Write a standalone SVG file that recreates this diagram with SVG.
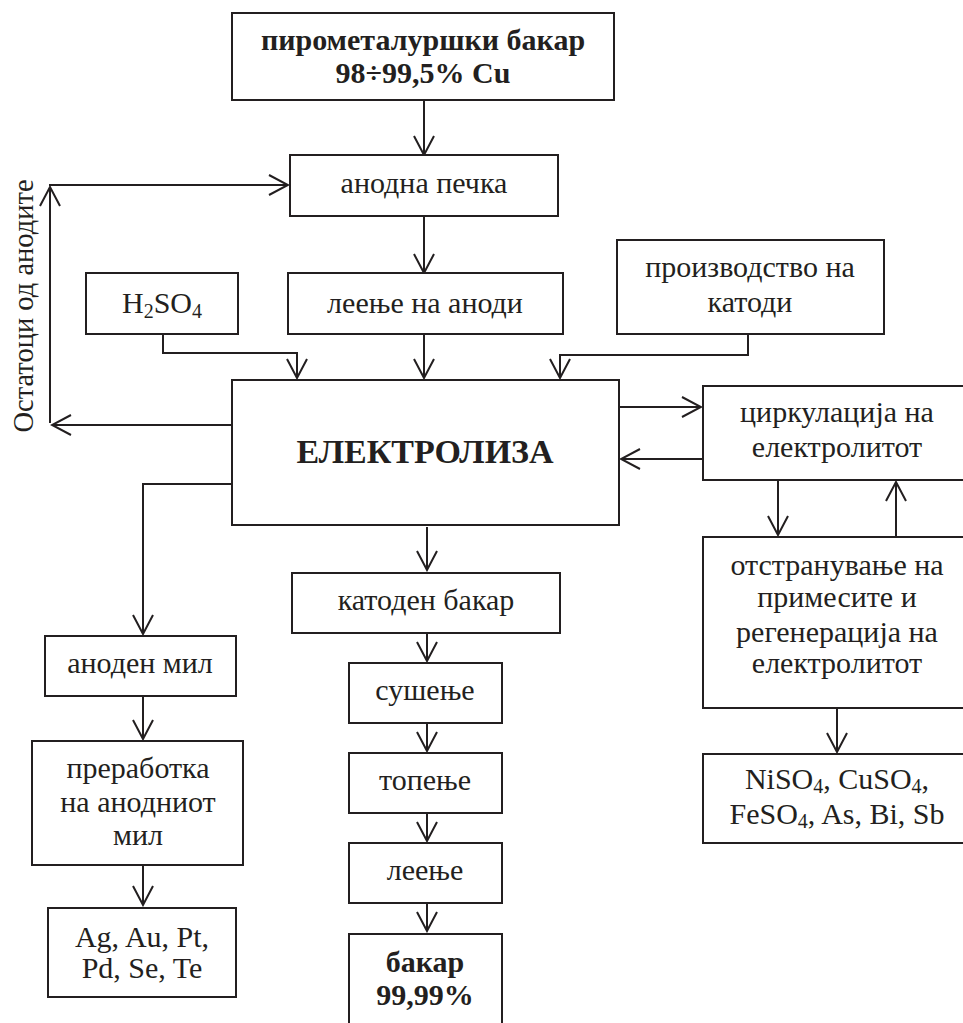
<svg xmlns="http://www.w3.org/2000/svg" width="963" height="1023" viewBox="0 0 963 1023">
<defs>
<style>
.box{fill:#fff;stroke:#231f20;stroke-width:2}
.t{font-family:"Liberation Serif","Times New Roman",serif;font-size:30px;fill:#231f20;text-anchor:middle}
.b{font-weight:bold}
.c{fill:none;stroke:#231f20;stroke-width:2}
.s{font-size:20px}
</style>
<marker id="ah" viewBox="-22 -12 24 24" refX="0" refY="0" markerWidth="24" markerHeight="24" markerUnits="userSpaceOnUse" orient="auto">
<path d="M-19,-10 L0,0 L-19,10" fill="none" stroke="#231f20" stroke-width="2"/>
</marker>
</defs>
<rect width="963" height="1023" fill="#fff"/>
<g id="connectors">
<path class="c" d="M424,100 V155" marker-end="url(#ah)"/>
<path class="c" d="M424,216 V273" marker-end="url(#ah)"/>
<path class="c" d="M424,334 V378" marker-end="url(#ah)"/>
<path class="c" d="M163,334 V353 H297 V378" marker-end="url(#ah)"/>
<path class="c" d="M748,334 V355 H560 V378" marker-end="url(#ah)"/>
<path class="c" d="M232,425 H52" marker-end="url(#ah)"/>
<path class="c" d="M50,423 V187" marker-end="url(#ah)"/>
<path class="c" d="M49,185 H288" marker-end="url(#ah)"/>
<path class="c" d="M232,484 H143 V634" marker-end="url(#ah)"/>
<path class="c" d="M427,527 V570" marker-end="url(#ah)"/>
<path class="c" d="M427,633 V661" marker-end="url(#ah)"/>
<path class="c" d="M427,723 V751" marker-end="url(#ah)"/>
<path class="c" d="M427,813 V841" marker-end="url(#ah)"/>
<path class="c" d="M427,903 V931" marker-end="url(#ah)"/>
<path class="c" d="M143,696 V739" marker-end="url(#ah)"/>
<path class="c" d="M143,865 V905" marker-end="url(#ah)"/>
<path class="c" d="M619,407 H701" marker-end="url(#ah)"/>
<path class="c" d="M703,459 H621" marker-end="url(#ah)"/>
<path class="c" d="M778,480 V535" marker-end="url(#ah)"/>
<path class="c" d="M896,537 V482" marker-end="url(#ah)"/>
<path class="c" d="M837,708 V752" marker-end="url(#ah)"/>
</g>
<text class="t" style="font-size:28.5px" transform="translate(33,306) rotate(-90)">Остатоци од анодите</text>
<g id="n-top"><rect class="box" x="232" y="13" width="382" height="87"/>
<text class="t b" x="423" y="50">пирометалуршки бакар</text><text class="t b" x="423" y="83">98÷99,5% Cu</text></g>
<g id="n-anodna"><rect class="box" x="290" y="155" width="268" height="61"/><text class="t" x="424" y="193">анодна печка</text></g>
<g id="n-h2so4"><rect class="box" x="86" y="273" width="152" height="61"/><text class="t" x="162" y="313">H<tspan class="s" baseline-shift="-5">2</tspan>SO<tspan class="s" baseline-shift="-5">4</tspan></text></g>
<g id="n-leenje-anodi"><rect class="box" x="288" y="273" width="275" height="61"/><text class="t" x="425" y="313">леење на аноди</text></g>
<g id="n-proizvodstvo"><rect class="box" x="617" y="240" width="267" height="94"/><text class="t" x="750" y="277">производство на</text><text class="t" x="750" y="312">катоди</text></g>
<g id="n-elektroliza"><rect class="box" x="232" y="380" width="387" height="145"/><text class="t b" x="425" y="463" style="font-size:34px">ЕЛЕКТРОЛИЗА</text></g>
<g id="n-cirkulacija"><rect class="box" x="703" y="386" width="270" height="94"/><text class="t" x="837" y="422">циркулација на</text><text class="t" x="837" y="457">електролитот</text></g>
<g id="n-otstranuvanje"><rect class="box" x="703" y="537" width="270" height="171"/><text class="t" x="837" y="575">отстранување на</text><text class="t" x="837" y="607">примесите и</text><text class="t" x="837" y="642">регенерација на</text><text class="t" x="837" y="673">електролитот</text></g>
<g id="n-niso4"><rect class="box" x="703" y="754" width="270" height="89"/><text class="t" x="837" y="789">NiSO<tspan class="s" baseline-shift="-4">4</tspan>, CuSO<tspan class="s" baseline-shift="-4">4</tspan>,</text><text class="t" x="837" y="824">FeSO<tspan class="s" baseline-shift="-4">4</tspan>, As, Bi, Sb</text></g>
<g id="n-anoden-mil"><rect class="box" x="45" y="636" width="191" height="60"/><text class="t" x="140" y="673">аноден мил</text></g>
<g id="n-prerabotka"><rect class="box" x="32" y="741" width="211" height="124"/><text class="t" x="138" y="778">преработка</text><text class="t" x="138" y="812">на анодниот</text><text class="t" x="138" y="845">мил</text></g>
<g id="n-ag"><rect class="box" x="48" y="908" width="188" height="89"/><text class="t" x="142" y="947">Ag, Au, Pt,</text><text class="t" x="142" y="978">Pd, Se, Te</text></g>
<g id="n-katoden"><rect class="box" x="292" y="573" width="268" height="60"/><text class="t" x="426" y="610">катоден бакар</text></g>
<g id="n-susenje"><rect class="box" x="349" y="663" width="153" height="60"/><text class="t" x="425" y="700">сушење</text></g>
<g id="n-topenje"><rect class="box" x="349" y="753" width="153" height="60"/><text class="t" x="425" y="790">топење</text></g>
<g id="n-leenje"><rect class="box" x="349" y="843" width="153" height="60"/><text class="t" x="425" y="880">леење</text></g>
<g id="n-bakar"><rect class="box" x="349" y="934" width="153" height="100"/><text class="t b" x="425" y="972">бакар</text><text class="t b" x="425" y="1005">99,99%</text></g>
</svg>
